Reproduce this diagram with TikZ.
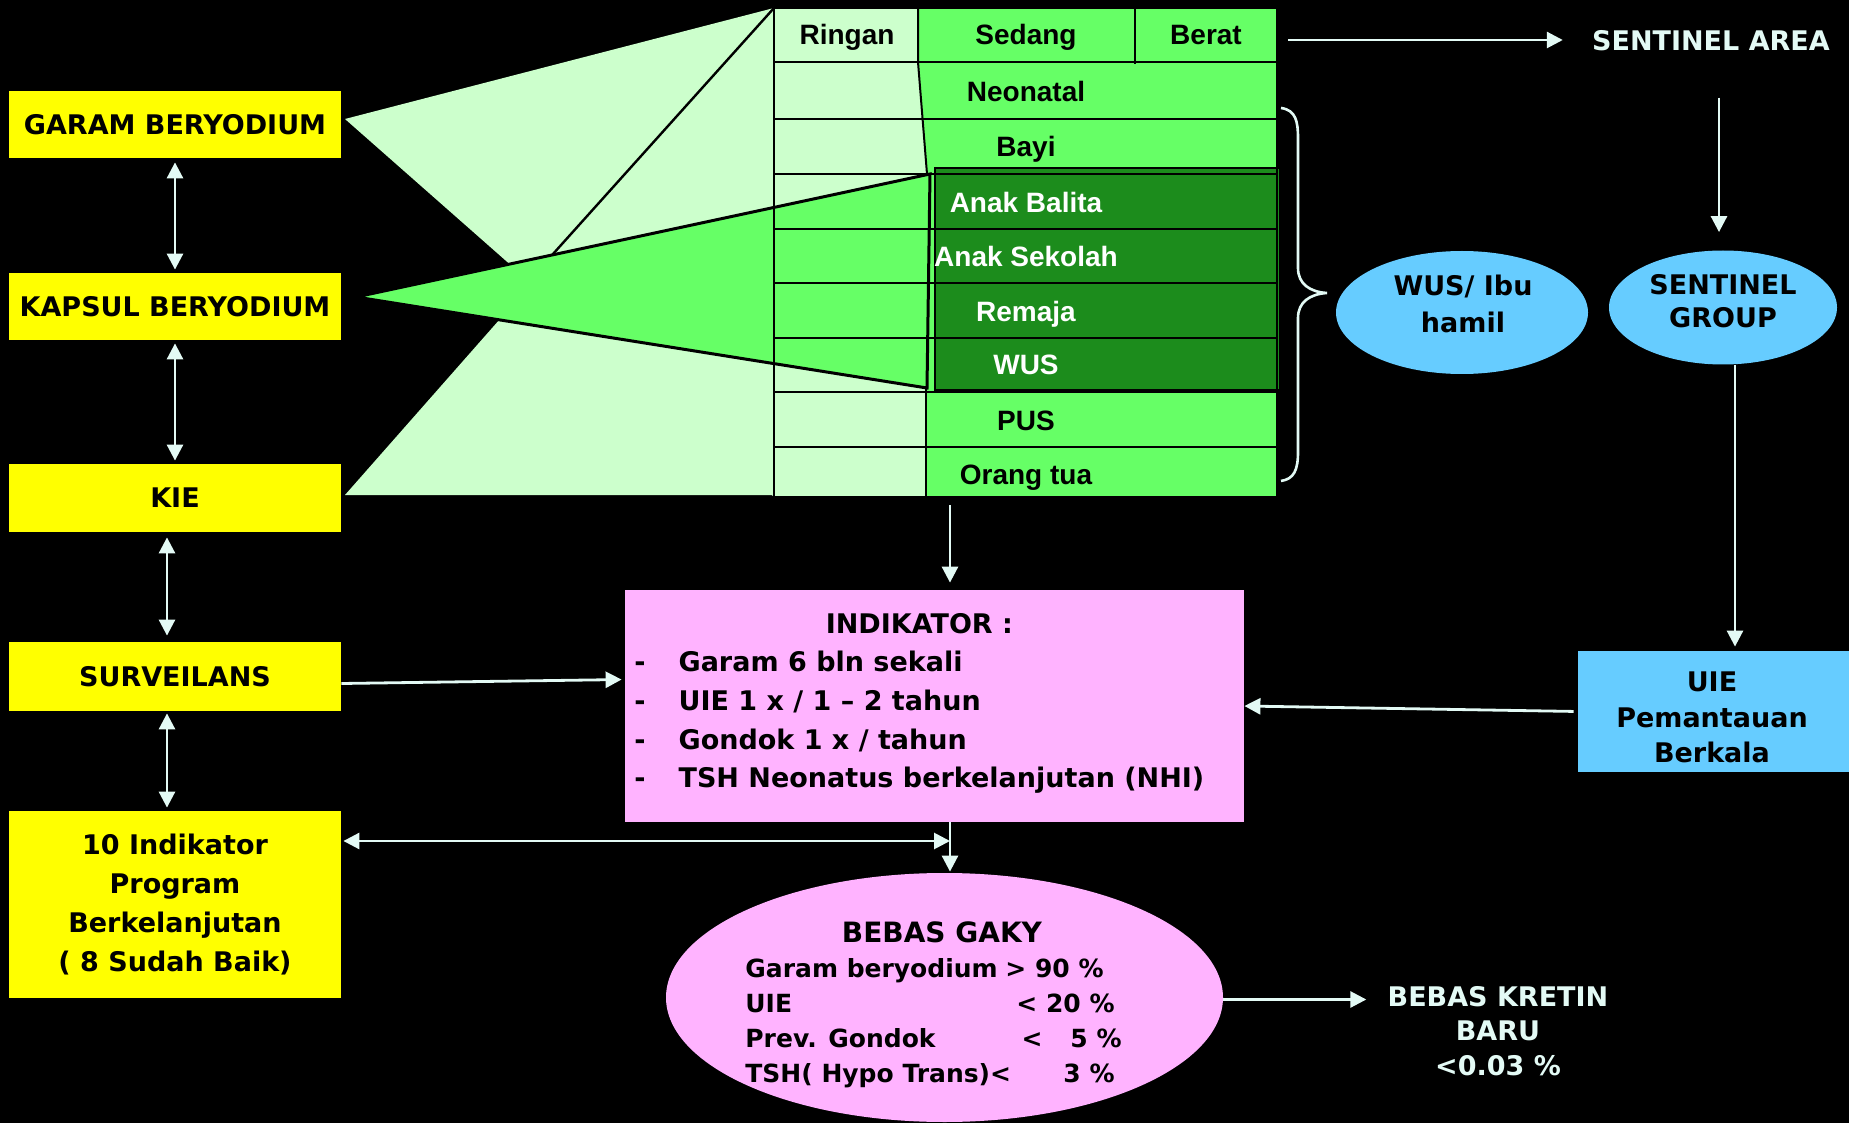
\documentclass[tikz,border=0pt]{standalone}
\usepackage{fontspec}
\setmainfont{Liberation Sans}
\newfontfamily\cmfam{DejaVu Sans}
\usetikzlibrary{arrows.meta,shapes.geometric}
\newcommand\cmf[2]{\cmfam\bfseries\fontsize{#1}{#2}\selectfont}
\newcommand\arf{\bfseries\fontsize{14}{16}\selectfont}
\definecolor{pale}{HTML}{CCFFCC}
\definecolor{grn}{HTML}{66FF66}
\definecolor{dgrn}{HTML}{1C8C1C}
\definecolor{pinkf}{HTML}{FFB3FF}
\definecolor{bluef}{HTML}{66CCFF}
\definecolor{yel}{HTML}{FFFF00}
\definecolor{arrc}{HTML}{E3FAF5}
\begin{document}
\begin{tikzpicture}[x=0.5pt,y=-0.5pt,
 ybox/.style={rectangle, fill=yel, minimum width=166pt, inner sep=0pt, align=center, text=black, font=\cmf{13.5}{19.5}},
 arr/.style={draw=arrc, line width=1.4pt, -{Triangle[length=8pt,width=8pt]}},
 darr/.style={draw=arrc, line width=1.4pt, {Triangle[length=8pt,width=8pt]}-{Triangle[length=8pt,width=8pt]}},
 ttxt/.style={font=\arf, text=black, inner sep=0pt, anchor=base},
 wtxt/.style={ttxt, text=white},
 ctxt/.style={font=\cmf{13.5}{19.35}, text=black, inner sep=0pt},
 etxt/.style={font=\cmf{12.5}{17.5}, text=black, inner sep=0pt},
 ltxt/.style={font=\cmf{13.5}{17.25}, text=arrc, inner sep=0pt, align=center},
 gl/.style={draw=black, line width=1pt}]

\fill[black] (0,0) rectangle (1849,1123);

% ---- table fills
\fill[pale] (774,8) rectangle (1277,497);
\fill[grn] (918,8) -- (1277,8) -- (1277,497) -- (926,497) -- (926,388) -- (927,174) -- (918,62) -- cycle;
\fill[dgrn] (935,168) rectangle (1280,390);

% ---- fans
\fill[pale] (345,119) -- (774,8) -- (774,497) -- cycle;
\fill[pale] (345,495) -- (774,495) -- (774,8) -- cycle;
\draw[black, line width=1.2pt] (774,8) -- (500,313);
\fill[grn] (356,297) -- (930,174) -- (927,388) -- cycle;

% ---- grid
\foreach \yy in {8,62,119,174,229,283,338,392,447,497} \draw[gl] (774,\yy) -- (1277,\yy);
\draw[gl] (774,8) -- (774,497);
\draw[gl] (1277,8) -- (1277,497);
\draw[gl] (1135,8) -- (1135,64);
\draw[gl] (918,8) -- (918,62) -- (927,174);
\draw[gl] (926,388) -- (926,497);
\draw[gl] (935,168) rectangle (1280,390);
\draw[black, line width=1.5pt] (356,297) -- (930,174) -- (927,388) -- (356,297);

% ---- table text
\node[ttxt] (ringan) at (847,45) {Ringan};
\node[ttxt] (sedang) at (1026,45) {Sedang};
\node[ttxt] (berat) at (1206,45) {Berat};
\node[ttxt] (neo) at (1026,102) {Neonatal};
\node[ttxt] (bayi) at (1026,157) {Bayi};
\node[wtxt] (balita) at (1026,213) {Anak Balita};
\node[wtxt] (sekolah) at (1026,267) {Anak Sekolah};
\node[wtxt] (remaja) at (1026,322) {Remaja};
\node[wtxt] (wusr) at (1026,375) {WUS};
\node[ttxt] (pus) at (1026,430) {PUS};
\node[ttxt] (ortu) at (1026,485) {Orang tua};
\coordinate (tabR) at (1277,40);
\coordinate (tabB) at (950,497);

% ---- left yellow boxes
\node[ybox, minimum height=33.5pt] (garam) at (175,124.5) {GARAM BERYODIUM};
\node[ybox, minimum height=33.5pt] (kapsul) at (175,306.5) {KAPSUL BERYODIUM};
\node[ybox, minimum height=34pt] (kie) at (175,498) {KIE};
\node[ybox, minimum height=34.5pt] (surv) at (175,676.5) {SURVEILANS};
\node[ybox, minimum height=93.5pt] (indi) at (175,904.5) {10 Indikator\\Program\\Berkelanjutan\\( 8 Sudah Baik)};

% ---- indikator box
\node[rectangle, fill=pinkf, minimum width=309.5pt, minimum height=116pt, inner sep=0pt] (ind) at (934.5,706) {};
\node[ctxt, anchor=base west] (indt) at (634,633) {\begin{tabular}[t]{@{}l@{\hspace{16.5pt}}l@{}}
\multicolumn{2}{c}{INDIKATOR :}\\
-&Garam 6 bln sekali\\
-&UIE 1 x / 1 – 2 tahun\\
-&Gondok 1 x / tahun\\
-&TSH Neonatus berkelanjutan (NHI)
\end{tabular}};

% ---- bebas gaky ellipse
\node[ellipse, fill=pinkf, minimum width=278.5pt, minimum height=124.5pt, inner sep=0pt] (gaky) at (944.5,997.5) {};
\node[font=\cmf{14}{17}, inner sep=0pt, anchor=base] (gakyh) at (942,942) {BEBAS GAKY};
\node[etxt, anchor=base west] (g1) at (745,977) {Garam beryodium};
\node[etxt, anchor=base east] (g1v) at (1104,977) {> 90 \%};
\node[etxt, anchor=base west] (g2) at (745,1012) {UIE};
\node[etxt, anchor=base east] (g2v) at (1115,1012) {< 20 \%};
\node[etxt, anchor=base west] (g3) at (745,1047) {Prev. Gondok};
\node[etxt, anchor=base east] (g3v) at (1122,1047) {<\hspace{14pt}5 \%};
\node[etxt, anchor=base west] (g4) at (745,1082) {TSH( Hypo Trans)<};
\node[etxt, anchor=base east] (g4v) at (1115,1082) {3 \%};

% ---- right side
\node[ltxt] (sa) at (1711,41) {SENTINEL AREA};
\node[ellipse, fill=bluef, minimum width=126pt, minimum height=61.5pt, inner sep=0pt] (wus) at (1462,312.5) {};
\node[font=\cmf{13.5}{18.5}, align=center, inner sep=0pt] (wust) at (1463,303.5) {WUS/ Ibu\\hamil};
\node[ellipse, fill=bluef, minimum width=114pt, minimum height=57pt, inner sep=0pt] (sg) at (1723,307.5) {};
\node[font=\cmf{13.5}{16.5}, align=center, inner sep=0pt] (sgt) at (1723,301.5) {SENTINEL\\GROUP};
\node[rectangle, fill=bluef, minimum width=135.5pt, minimum height=60.5pt, inner sep=0pt] (uie) at (1713.5,711.5) {};
\node[font=\cmf{13.5}{17.75}, align=center, inner sep=0pt] (uiet) at (1712,717.5) {UIE\\Pemantauan\\Berkala};
\node[ltxt] (kretin) at (1498,1031) {BEBAS KRETIN\\BARU\\<0.03 \%};

% ---- brace
\draw[arrc, line width=1.3pt] (1281,108) .. controls (1296,110) and (1298,122) .. (1298,138) -- (1298,268) .. controls (1298,284) and (1310,292) .. (1327,293) .. controls (1310,294) and (1298,302) .. (1298,318) -- (1298,452) .. controls (1298,470) and (1294,479) .. (1281,481);

% ---- connectors
\draw[darr, shorten <=2pt, shorten >=1.5pt] (garam.south) -- (kapsul.north);
\draw[darr, shorten <=1.5pt, shorten >=1.5pt] (kapsul.south) -- (kie.north);
\draw[darr, shorten <=2.5pt, shorten >=3pt] ([xshift=-4pt]kie.south) -- ([xshift=-4pt]surv.north);
\draw[darr, shorten <=1pt, shorten >=1.5pt] ([xshift=-4pt]surv.south) -- ([xshift=-4pt]indi.north);
\draw[arr, shorten >=1.5pt] ([yshift=-3.5pt]surv.east) -- ([yshift=-1.5pt]surv.east -| ind.west);
\draw[arr, shorten <=4pt, shorten >=3.5pt] (tabB) -- (tabB |- ind.north);
\draw[arr, shorten <=5.5pt, shorten >=14.5pt] (tabR) -- (tabR -| sa.west);
\draw[arr, shorten <=23pt, shorten >=9pt] ([xshift=4pt]sa.south) -- ([xshift=4pt]sa.south |- sg.north);
\draw[arr, shorten >=2pt] ([xshift=6pt]sg.south) -- ([xshift=6pt]sg.south |- uie.north);
\draw[arr, shorten <=2pt] (uie.west) -- (ind.east);
\coordinate (jn) at (950,841);
\draw[arr, shorten >=0.5pt] (ind.south -| jn) -- (gaky.north -| jn);
\draw[darr, shorten <=1pt] (indi.east |- jn) -- (jn);
\draw[arr, shorten >=10.5pt] ([yshift=-1pt]gaky.east) -- ([yshift=-1pt]gaky.east -| kretin.west);
\end{tikzpicture}
\end{document}
